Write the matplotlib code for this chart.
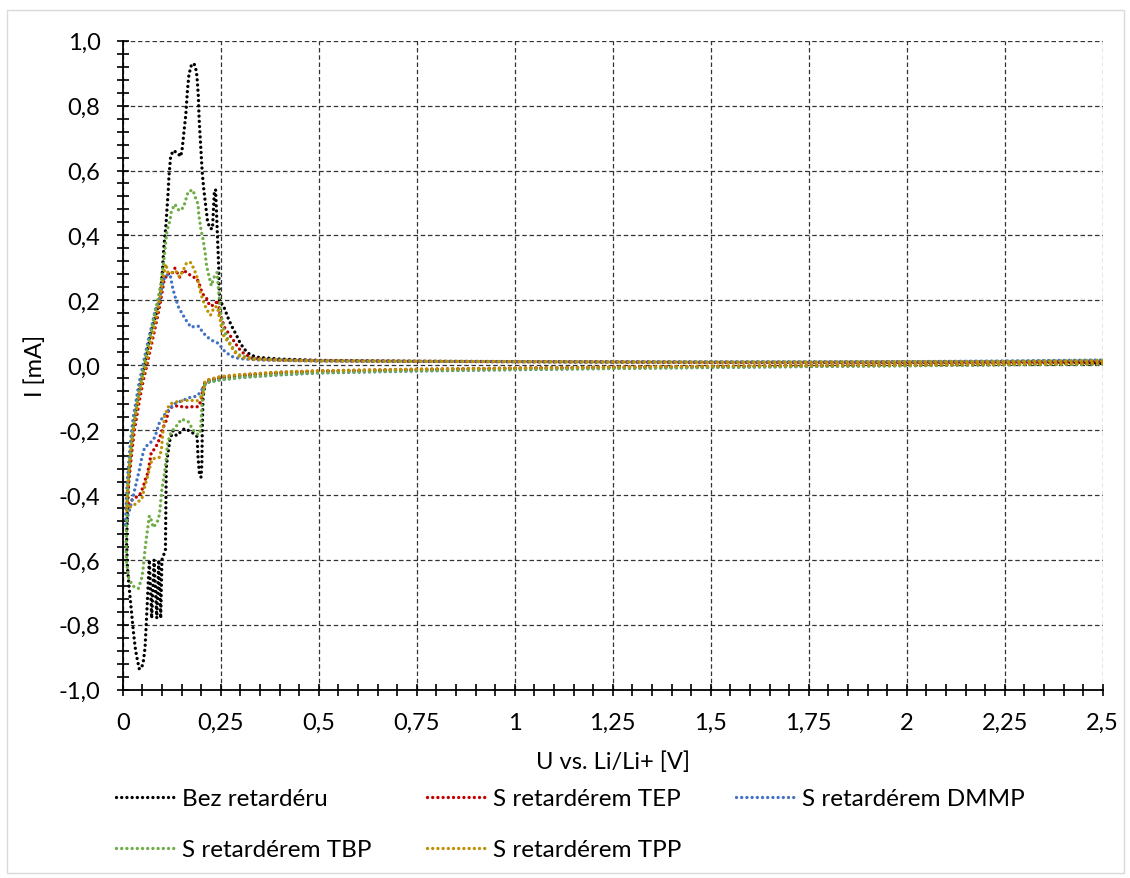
import matplotlib
matplotlib.use("Agg")
import matplotlib.pyplot as plt
from matplotlib.ticker import FixedLocator, FixedFormatter, MultipleLocator
from matplotlib.patches import Rectangle

plt.rcParams['font.family'] = ['Lato', 'DejaVu Sans']

# cyclic voltammograms, sweep 2.5 V -> 0 V -> 2.5 V
u_bez = [2.5, 2.25, 2.0, 1.75, 1.5, 1.25, 1.0, 0.75, 0.5, 0.4, 0.3, 0.25, 0.22, 0.21, 0.205, 0.203, 0.202, 0.2,
         0.196, 0.192, 0.19, 0.177, 0.158, 0.137, 0.128, 0.12, 0.114, 0.111, 0.11, 0.109, 0.1, 0.097, 0.092, 0.087,
         0.08, 0.074, 0.068, 0.064, 0.06, 0.057, 0.053, 0.048, 0.042, 0.037, 0.033, 0.028, 0.024, 0.02, 0.016, 0.012,
         0.01, 0.012, 0.015, 0.02, 0.026, 0.033, 0.04, 0.047, 0.054, 0.062, 0.071, 0.084, 0.095, 0.101, 0.105, 0.11,
         0.116, 0.118, 0.122, 0.128, 0.138, 0.148, 0.152, 0.156, 0.161, 0.165, 0.169, 0.175, 0.182, 0.188, 0.19,
         0.193, 0.195, 0.199, 0.203, 0.207, 0.212, 0.216, 0.222, 0.229, 0.234, 0.237, 0.241, 0.245, 0.247, 0.258,
         0.271, 0.28, 0.29, 0.3, 0.313, 0.326, 0.347, 0.4, 0.5, 0.75, 1.0, 1.25, 1.5, 1.75, 2.0, 2.25, 2.45, 2.5]
i_bez = [0.004, 0.002, 0.0, -0.002, -0.005, -0.007, -0.01, -0.014, -0.019, -0.024, -0.033, -0.04, -0.05, -0.055,
         -0.1, -0.2, -0.3, -0.345, -0.34, -0.28, -0.22, -0.207, -0.195, -0.217, -0.202, -0.233, -0.284, -0.32, -0.45,
         -0.57, -0.6, -0.78, -0.6, -0.78, -0.6, -0.78, -0.6, -0.7, -0.8, -0.87, -0.91, -0.935, -0.935, -0.905, -0.88,
         -0.83, -0.78, -0.73, -0.68, -0.62, -0.55, -0.45, -0.35, -0.28, -0.2, -0.14, -0.09, -0.045, -0.01, 0.04, 0.1,
         0.15, 0.2, 0.284, 0.365, 0.427, 0.535, 0.582, 0.639, 0.661, 0.656, 0.643, 0.669, 0.716, 0.772, 0.844, 0.896,
         0.924, 0.93, 0.906, 0.88, 0.829, 0.757, 0.674, 0.592, 0.54, 0.489, 0.448, 0.422, 0.42, 0.54, 0.54, 0.42,
         0.3, 0.2, 0.18, 0.139, 0.116, 0.093, 0.067, 0.046, 0.031, 0.024, 0.019, 0.015, 0.012, 0.011, 0.01, 0.009,
         0.009, 0.009, 0.01, 0.009, 0.005]

u_tep = [2.5, 2.25, 2.0, 1.75, 1.5, 1.25, 1.0, 0.75, 0.5, 0.4, 0.3, 0.25, 0.22, 0.21, 0.205, 0.2, 0.192, 0.175,
         0.158, 0.141, 0.126, 0.117, 0.111, 0.104, 0.096, 0.09, 0.08, 0.073, 0.071, 0.067, 0.063, 0.058, 0.052, 0.043,
         0.03, 0.018, 0.011, 0.014, 0.018, 0.023, 0.03, 0.037, 0.044, 0.052, 0.06, 0.069, 0.08, 0.089, 0.097, 0.105,
         0.114, 0.124, 0.133, 0.145, 0.155, 0.166, 0.18, 0.187, 0.194, 0.203, 0.214, 0.222, 0.233, 0.243, 0.248,
         0.26, 0.273, 0.285, 0.296, 0.309, 0.33, 0.36, 0.4, 0.5, 0.75, 1.0, 1.25, 1.5, 1.75, 2.0, 2.25, 2.5]
i_tep = [0.005, 0.003, 0.001, -0.001, -0.004, -0.006, -0.009, -0.013, -0.018, -0.022, -0.03, -0.036, -0.045,
         -0.052, -0.07, -0.11, -0.128, -0.128, -0.13, -0.125, -0.128, -0.14, -0.171, -0.19, -0.217, -0.24, -0.26,
         -0.267, -0.284, -0.31, -0.335, -0.351, -0.376, -0.4, -0.41, -0.42, -0.44, -0.38, -0.33, -0.27, -0.2, -0.15,
         -0.1, -0.05, -0.01, 0.04, 0.1, 0.15, 0.2, 0.257, 0.283, 0.279, 0.299, 0.271, 0.293, 0.283, 0.271, 0.27,
         0.256, 0.221, 0.206, 0.183, 0.185, 0.2, 0.16, 0.116, 0.093, 0.072, 0.052, 0.036, 0.022, 0.018, 0.016, 0.014,
         0.012, 0.011, 0.01, 0.009, 0.009, 0.01, 0.011, 0.013]

u_dmmp = [2.5, 2.25, 2.0, 1.75, 1.5, 1.25, 1.0, 0.75, 0.5, 0.4, 0.3, 0.25, 0.22, 0.21, 0.2, 0.19, 0.17, 0.15, 0.13,
          0.116, 0.105, 0.094, 0.082, 0.07, 0.056, 0.048, 0.043, 0.039, 0.029, 0.021, 0.012, 0.007, 0.009, 0.012,
          0.016, 0.021, 0.027, 0.034, 0.041, 0.048, 0.055, 0.064, 0.074, 0.083, 0.093, 0.1, 0.105, 0.112, 0.121,
          0.128, 0.135, 0.142, 0.152, 0.163, 0.174, 0.185, 0.194, 0.205, 0.218, 0.23, 0.243, 0.252, 0.262, 0.282,
          0.3, 0.35, 0.4, 0.5, 0.75, 1.0, 1.25, 1.5, 1.75, 2.0, 2.25, 2.5]
i_dmmp = [0.004, 0.002, -0.001, -0.004, -0.007, -0.01, -0.014, -0.018, -0.024, -0.03, -0.038, -0.045, -0.052,
          -0.06, -0.08, -0.095, -0.1, -0.11, -0.12, -0.14, -0.155, -0.176, -0.222, -0.24, -0.253, -0.289, -0.32,
          -0.34, -0.392, -0.43, -0.47, -0.5, -0.42, -0.35, -0.29, -0.22, -0.16, -0.11, -0.06, -0.02, 0.02, 0.07,
          0.12, 0.17, 0.2, 0.24, 0.265, 0.278, 0.279, 0.235, 0.206, 0.18, 0.158, 0.136, 0.117, 0.12, 0.12, 0.1,
          0.085, 0.075, 0.068, 0.055, 0.04, 0.025, 0.02, 0.016, 0.015, 0.013, 0.012, 0.011, 0.01, 0.01, 0.01, 0.011,
          0.013, 0.016]

u_tbp = [2.5, 2.25, 2.0, 1.75, 1.5, 1.25, 1.0, 0.75, 0.5, 0.4, 0.3, 0.25, 0.22, 0.21, 0.205, 0.202, 0.2, 0.199,
         0.193, 0.18, 0.167, 0.15, 0.138, 0.123, 0.114, 0.111, 0.106, 0.1, 0.096, 0.094, 0.088, 0.078, 0.072, 0.068,
         0.063, 0.057, 0.053, 0.049, 0.04, 0.025, 0.015, 0.01, 0.009, 0.011, 0.014, 0.019, 0.025, 0.032, 0.039,
         0.046, 0.053, 0.061, 0.072, 0.08, 0.089, 0.097, 0.105, 0.112, 0.116, 0.121, 0.124, 0.133, 0.144, 0.155,
         0.161, 0.167, 0.179, 0.186, 0.192, 0.194, 0.197, 0.2, 0.205, 0.208, 0.211, 0.213, 0.217, 0.226, 0.233,
         0.241, 0.244, 0.247, 0.25, 0.258, 0.27, 0.285, 0.3, 0.33, 0.4, 0.5, 0.75, 1.0, 1.25, 1.5, 1.75, 2.0, 2.25,
         2.5]
i_tbp = [0.003, 0.001, -0.002, -0.004, -0.007, -0.01, -0.013, -0.017, -0.023, -0.029, -0.038, -0.045, -0.052,
         -0.058, -0.08, -0.13, -0.166, -0.2, -0.215, -0.2, -0.174, -0.166, -0.186, -0.207, -0.243, -0.289, -0.34,
         -0.381, -0.433, -0.459, -0.484, -0.5, -0.474, -0.464, -0.51, -0.566, -0.618, -0.654, -0.688, -0.68, -0.654,
         -0.607, -0.556, -0.45, -0.36, -0.29, -0.21, -0.15, -0.1, -0.055, -0.01, 0.04, 0.1, 0.15, 0.2, 0.247, 0.324,
         0.405, 0.427, 0.448, 0.474, 0.496, 0.476, 0.486, 0.51, 0.535, 0.54, 0.515, 0.497, 0.466, 0.44, 0.415,
         0.388, 0.365, 0.34, 0.314, 0.29, 0.245, 0.271, 0.286, 0.24, 0.2, 0.16, 0.11, 0.075, 0.045, 0.03, 0.021,
         0.017, 0.014, 0.012, 0.011, 0.01, 0.01, 0.01, 0.011, 0.012, 0.015]

u_tpp = [2.5, 2.25, 2.0, 1.75, 1.5, 1.25, 1.0, 0.75, 0.5, 0.4, 0.3, 0.25, 0.22, 0.21, 0.205, 0.19, 0.17, 0.15,
         0.133, 0.12, 0.114, 0.107, 0.103, 0.099, 0.094, 0.085, 0.075, 0.068, 0.063, 0.055, 0.049, 0.04, 0.03,
         0.015, 0.01, 0.013, 0.017, 0.022, 0.028, 0.035, 0.042, 0.05, 0.057, 0.066, 0.077, 0.086, 0.094, 0.102,
         0.11, 0.116, 0.125, 0.135, 0.145, 0.156, 0.163, 0.174, 0.183, 0.19, 0.199, 0.206, 0.214, 0.224, 0.234,
         0.242, 0.246, 0.25, 0.252, 0.258, 0.273, 0.285, 0.3, 0.33, 0.4, 0.5, 0.75, 1.0, 1.25, 1.5, 1.75, 2.0, 2.25,
         2.5]
i_tpp = [0.005, 0.003, 0.001, -0.001, -0.003, -0.006, -0.009, -0.012, -0.017, -0.021, -0.029, -0.035, -0.044,
         -0.05, -0.09, -0.11, -0.108, -0.11, -0.114, -0.12, -0.135, -0.156, -0.2, -0.258, -0.284, -0.285, -0.29,
         -0.32, -0.345, -0.38, -0.412, -0.42, -0.43, -0.44, -0.45, -0.37, -0.31, -0.25, -0.19, -0.14, -0.09,
         -0.045, -0.01, 0.04, 0.1, 0.15, 0.2, 0.26, 0.312, 0.283, 0.285, 0.291, 0.272, 0.297, 0.316, 0.316, 0.293,
         0.27, 0.221, 0.196, 0.172, 0.154, 0.18, 0.18, 0.15, 0.134, 0.108, 0.09, 0.065, 0.041, 0.025, 0.018, 0.015,
         0.013, 0.012, 0.011, 0.01, 0.009, 0.009, 0.01, 0.011, 0.013]

x_ticks = [0, 0.25, 0.5, 0.75, 1.0, 1.25, 1.5, 1.75, 2.0, 2.25, 2.5]
x_labels = ['0', '0,25', '0,5', '0,75', '1', '1,25', '1,5', '1,75', '2', '2,25', '2,5']
y_ticks = [-1.0, -0.8, -0.6, -0.4, -0.2, 0.0, 0.2, 0.4, 0.6, 0.8, 1.0]
y_labels = ['-1,0', '-0,8', '-0,6', '-0,4', '-0,2', '0,0', '0,2', '0,4', '0,6', '0,8', '1,0']

W, H = 1130, 879
fig = plt.figure(figsize=(W / 100, H / 100), dpi=100)
fig.patches.append(Rectangle((7 / W, 5 / H), 1117 / W, 863 / H, transform=fig.transFigure,
                             fill=False, edgecolor='#D9D9D9', linewidth=1))
ax = fig.add_axes([122.7 / W, 1 - 690.7 / H, 980 / W, 649 / H])

dot = dict(linestyle=(0, (0.01, 1.55)), linewidth=2.4, dash_capstyle='round')
l_bez, = ax.plot(u_bez, i_bez, color='black', label='Bez retardéru', **dot)
l_tep, = ax.plot(u_tep, i_tep, color='#C00000', label='S retardérem TEP', **dot)
l_dmmp, = ax.plot(u_dmmp, i_dmmp, color='#4472C4', label='S retardérem DMMP', **dot)
l_tbp, = ax.plot(u_tbp, i_tbp, color='#70AD47', label='S retardérem TBP', **dot)
l_tpp, = ax.plot(u_tpp, i_tpp, color='#BF9000', label='S retardérem TPP', **dot)

ax.set_xlim(0, 2.5)
ax.set_ylim(-1, 1)
ax.xaxis.set_major_locator(FixedLocator(x_ticks))
ax.xaxis.set_major_formatter(FixedFormatter(x_labels))
ax.xaxis.set_minor_locator(MultipleLocator(0.05))
ax.yaxis.set_major_locator(FixedLocator(y_ticks))
ax.yaxis.set_major_formatter(FixedFormatter(y_labels))
ax.yaxis.set_minor_locator(MultipleLocator(0.04))
ax.tick_params(which='both', direction='inout', length=8, width=1.2, color='black')
ax.tick_params(which='major', labelsize=17, pad=12)

for s in ['top', 'right']:
    ax.spines[s].set_visible(False)
for s in ['left', 'bottom']:
    ax.spines[s].set_linewidth(1.3)

ax.set_axisbelow(True)
ax.grid(True, which='major', color='#333333', linestyle=(0, (3.6, 2.2)), linewidth=0.9)

ax.set_xlabel('U vs. Li/Li+ [V]', fontsize=17)
ax.set_ylabel('I [mA]', fontsize=17)
ax.xaxis.set_label_coords(0.5, -0.093)
ax.yaxis.set_label_coords(-0.078, 0.5)

# legend: three columns placed separately
leg_kw = dict(loc='upper left', frameon=False, fontsize=17.5, borderaxespad=0, borderpad=0,
              handlelength=2.4, handletextpad=0.3, labelspacing=1.25)
cols = [([l_bez, l_tbp], 116), ([l_tep, l_tpp], 427), ([l_dmmp], 736)]
for handles, x0 in cols:
    fig.legend(handles=handles, bbox_to_anchor=(x0 / W, 1 - 789 / H), **leg_kw)

fig.savefig('out.png', dpi=100)
